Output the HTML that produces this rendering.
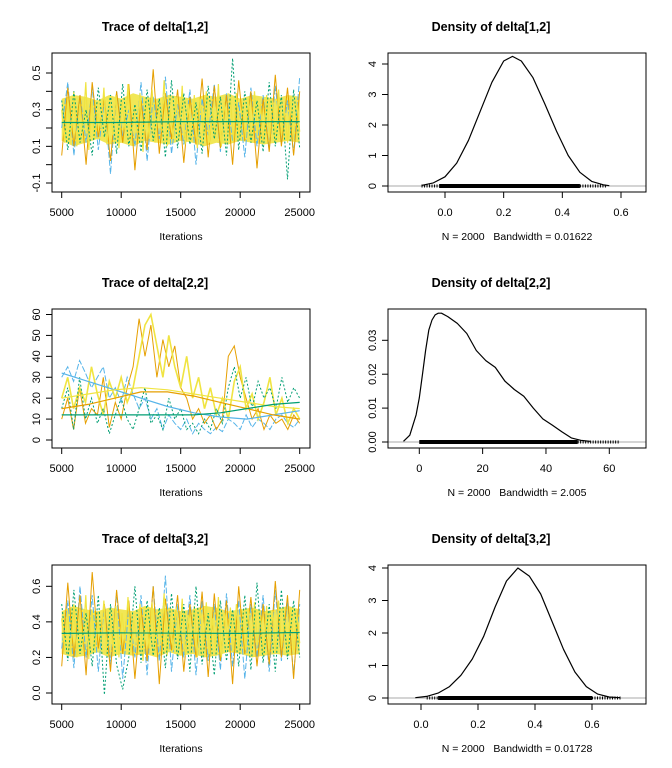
<!DOCTYPE html>
<html><head><meta charset="utf-8"><style>
body{margin:0;background:#fff;}
svg{display:block;font-family:"Liberation Sans",Arial,sans-serif;}
text{white-space:pre;}
</style></head><body>
<svg id="c" width="672" height="768" viewBox="0 0 672 768"></svg>
<script>
const iters=[5000,25000];
// Row 1 trace chains
const t1BandLo=[0.13,0.10,0.12,0.14,0.11,0.12,0.10,0.13,0.12,0.11,0.13,0.12,0.10,0.12,0.11,0.13,0.12,0.11,0.12,0.13,0.12];
const t1BandHi=[0.36,0.38,0.37,0.35,0.38,0.36,0.39,0.37,0.36,0.38,0.37,0.36,0.38,0.37,0.39,0.36,0.38,0.37,0.36,0.38,0.37];
const t1Yellow=[0.30,0.12,0.35,0.15,0.40,0.10,0.33,0.18,0.45,0.08,0.36,0.14,0.28,0.20,0.42,0.11,0.31,0.16,0.38,0.09,0.34,0.19,0.44,0.13,0.29,0.17,0.39,0.07,0.35,0.15,0.41,0.12,0.32,0.18,0.46,0.10,0.30,0.14,0.37,0.16,0.43,0.11,0.33,0.13,0.38,0.09,0.36,0.17,0.40,0.12,0.31,0.15,0.44,0.10,0.34,0.19,0.37,0.13,0.39,0.16,0.32,0.14,0.36,0.12,0.40,0.17,0.33,0.11,0.38,0.15,0.35,0.13,0.41,0.16,0.30,0.12,0.37,0.14,0.34,0.18];
const t1Orange=[0.05,0.42,0.10,0.38,0.00,0.45,0.15,0.36,0.02,0.40,0.12,0.44,-0.03,0.35,0.08,0.52,0.06,0.39,0.14,0.41,0.01,0.37,0.11,0.47,0.04,0.43,0.09,0.38,0.00,0.46,0.13,0.40,-0.02,0.36,0.07,0.49,0.10,0.42,0.05,0.40];
const t1Green=[0.35,0.08,0.40,0.12,0.30,0.05,0.42,0.15,0.38,0.06,0.44,0.10,0.33,0.07,0.41,0.13,0.36,0.04,0.46,0.09,0.39,0.11,0.34,0.06,0.43,0.14,0.37,0.05,0.58,0.08,0.40,0.12,0.35,0.07,0.45,0.10,0.38,-0.08,0.41,0.09];
const t1Blue=[0.20,0.45,0.05,0.38,0.12,0.42,0.08,0.35,-0.05,0.40,0.15,0.30,0.10,0.45,0.02,0.37,0.14,0.48,0.06,0.33,0.11,0.41,0.00,0.36,0.16,0.44,0.07,0.39,0.13,0.34,0.04,0.42,0.10,0.38,0.08,0.43,0.12,0.35,0.06,0.48];
const t1Smooth=[0.23,0.23,0.235,0.235,0.235];
// Row 2 trace chains
const t2Yellow=[20,30,15,25,18,35,22,12,28,20,30,18,25,40,55,60,45,30,50,35,25,40,20,30,15,25,12,20,10,28,35,15,22,10,18,30,12,20,8,15,10];
const t2Orange=[10,20,5,25,8,15,12,30,6,18,10,25,35,58,40,55,30,48,35,45,25,20,10,15,8,12,5,10,40,45,30,20,10,15,5,12,8,10,5,12,8];
const t2Green=[15,25,5,30,10,20,8,15,3,12,20,10,5,15,25,8,12,5,20,10,15,5,8,3,10,5,15,8,25,35,20,30,15,28,20,25,15,30,18,25,20];
const t2Blue=[30,35,28,38,32,25,30,35,20,25,18,30,22,15,20,10,15,5,12,8,5,10,3,8,5,3,6,4,10,8,5,12,6,10,8,5,10,12,8,6,10];
const s2Yellow=[20,22,24,25,24,22,20,18,16,15];
const s2Orange=[15,17,20,23,23,21,18,15,12,10];
const s2Green=[12,12,12,12,12,12,13,15,17,18];
const s2Blue=[32,28,24,20,16,13,11,10,12,14];
// Row 3 trace chains
const t3BandLo=[0.22,0.20,0.21,0.23,0.20,0.22,0.21,0.22,0.20,0.23,0.21,0.22,0.20,0.21,0.23,0.22,0.20,0.21,0.22,0.21,0.22];
const t3BandHi=[0.46,0.49,0.47,0.46,0.48,0.47,0.46,0.49,0.47,0.48,0.46,0.47,0.49,0.48,0.46,0.47,0.48,0.46,0.47,0.49,0.47];
const t3Yellow=[0.42,0.24,0.46,0.22,0.50,0.20,0.44,0.27,0.55,0.19,0.47,0.25,0.40,0.30,0.52,0.22,0.43,0.26,0.49,0.20,0.45,0.29,0.54,0.23,0.41,0.27,0.50,0.18,0.46,0.25,0.51,0.22,0.43,0.28,0.56,0.21,0.42,0.24,0.48,0.26,0.53,0.21,0.44,0.24,0.49,0.20,0.47,0.27,0.51,0.22,0.42,0.25,0.54,0.20,0.45,0.29,0.48,0.23,0.50,0.26,0.43,0.24,0.47,0.22,0.51,0.27,0.44,0.21,0.49,0.25,0.46,0.23,0.52,0.26,0.41,0.22,0.48,0.24,0.45,0.28];
const t3Orange=[0.15,0.62,0.20,0.55,0.10,0.68,0.25,0.50,0.12,0.58,0.22,0.52,0.08,0.48,0.18,0.60,0.05,0.53,0.24,0.55,0.12,0.50,0.20,0.57,0.09,0.56,0.18,0.52,0.05,0.60,0.22,0.54,0.15,0.50,0.16,0.63,0.20,0.55,0.08,0.58];
const t3Green=[0.50,0.18,0.58,0.22,0.45,0.15,0.55,-0.01,0.50,0.16,0.02,0.20,0.60,0.17,0.52,0.21,0.48,0.14,0.56,0.19,0.50,0.12,0.60,0.16,0.45,0.10,0.52,0.18,0.47,0.15,0.55,0.13,0.62,0.17,0.50,0.12,0.58,0.19,0.52,0.20];
const t3Blue=[0.25,0.52,0.14,0.60,0.20,0.55,0.12,0.50,0.16,0.57,0.08,0.48,0.20,0.55,0.10,0.60,0.18,0.66,0.12,0.50,0.20,0.55,0.10,0.52,0.18,0.50,0.13,0.56,0.15,0.52,0.08,0.50,0.20,0.55,0.12,0.58,0.18,0.52,0.10,0.50];
const t3Smooth=[0.335,0.338,0.336,0.335,0.34];
// densities
const d1x=[-0.08,-0.04,0,0.04,0.08,0.12,0.16,0.2,0.23,0.26,0.3,0.34,0.38,0.42,0.46,0.5,0.54,0.56];
const d1y=[0.02,0.1,0.3,0.75,1.5,2.45,3.4,4.1,4.25,4.1,3.55,2.7,1.8,1.0,0.45,0.15,0.04,0.01];
const d2x=[-5,-3,-1,0,1,2,3,4,5,6,7,9,12,15,18,21,24,27,30,33,36,39,42,45,48,51,54];
const d2y=[0.0002,0.002,0.008,0.013,0.02,0.027,0.033,0.036,0.0375,0.038,0.038,0.037,0.035,0.032,0.027,0.024,0.022,0.018,0.0155,0.0135,0.01,0.0068,0.005,0.003,0.0012,0.0005,0.0002];
const d3x=[-0.02,0.02,0.06,0.1,0.14,0.18,0.22,0.26,0.3,0.34,0.38,0.42,0.46,0.5,0.54,0.58,0.62,0.66,0.7];
const d3y=[0.01,0.05,0.15,0.35,0.7,1.2,1.9,2.8,3.6,4.0,3.75,3.2,2.35,1.5,0.8,0.35,0.12,0.03,0.01];
// rug: [sparse-min, dense-min, dense-max, sparse-max]
const rug1=[-0.08,-0.02,0.46,0.55], rug2=[0,0,50,63], rug3=[0.02,0.06,0.60,0.70];

const NS='http://www.w3.org/2000/svg', svg=document.getElementById('c');
function el(t,a,p){const e=document.createElementNS(NS,t);for(const k in a)e.setAttribute(k,a[k]);(p||svg).appendChild(e);return e;}
function lin(d0,d1,r0,r1){return v=>r0+(v-d0)*(r1-r0)/(d1-d0);}
function txt(s,x,y,o,name){const e=el('text',Object.assign({x:x,y:y,'font-size':11,'text-anchor':'middle',fill:'#000'},o||{}));e.textContent=s;

return e;}
function panel(px,py,title,name){
  const g=el('g',{});
  
  
  g.appendChild(txt(title,px+155,py+31,{'font-size':12.5,'font-weight':'bold'},'panel-title'));
  return g;
}
function box(g,x0,y0){const r=el('rect',{x:x0+52,y:y0+53,width:258,height:139,fill:'none',stroke:'#000','stroke-width':1},g);

}
function xaxis(g,ticks,labels,sx,y0){
  ticks.forEach((t,i)=>{const x=sx(t);el('line',{x1:x,x2:x,y1:y0+192,y2:y0+198,stroke:'#000'},g);
    g.appendChild(txt(labels[i],x,y0+216,{},'x-tick-label'));});
  el('line',{x1:sx(ticks[0]),x2:sx(ticks[ticks.length-1]),y1:y0+192,y2:y0+192,stroke:'#000'},g);
}
function yaxis(g,ticks,labels,sy,x0){
  ticks.forEach((t,i)=>{const y=sy(t);el('line',{x1:x0+52,x2:x0+46,y1:y,y2:y,stroke:'#000'},g);
    if(labels[i]!==''){g.appendChild(txt(labels[i],0,0,{transform:`translate(${x0+40},${y}) rotate(-90)`},'y-tick-label'));}});
  el('line',{x1:x0+52,x2:x0+52,y1:sy(ticks[0]),y2:sy(ticks[ticks.length-1]),stroke:'#000'},g);
}
function path(g,xs,ys,sx,sy,o,name){let d='';xs.forEach((x,i)=>{d+=(i?'L':'M')+sx(x).toFixed(1)+','+sy(ys[i]).toFixed(1);});
  const p=el('path',Object.assign({d:d,fill:'none'},o),g);
  
  return p;}
function seqX(n){const a=[];for(let i=0;i<n;i++)a.push(iters[0]+(iters[1]-iters[0])*i/(n-1));return a;}
const COL={y:'#F0E442',o:'#E69F00',g:'#009E73',b:'#56B4E9'};
function trace(row,title,ch,smooth,band,yt,yl,ydom){
  const y0=row*256, g=panel(0,y0,title,'trace-panel-'+(row+1));
  const sx=lin(5000,25000,61.7,299.7), sy=lin(ydom[0],ydom[1],ydom[2],ydom[3]);
  const clip=el('clipPath',{id:'cl'+row},g);el('rect',{x:52,y:y0+53,width:258,height:139},clip);
  const cg=el('g',{'clip-path':`url(#cl${row})`},g);
  if(band){const xs=seqX(band[0].length);let d='';
    xs.forEach((x,i)=>{d+=(i?'L':'M')+sx(x).toFixed(1)+','+sy(band[1][i]).toFixed(1);});
    for(let i=xs.length-1;i>=0;i--)d+='L'+sx(xs[i]).toFixed(1)+','+sy(band[0][i]).toFixed(1);
    const p=el('path',{d:d+'Z',fill:COL.y,opacity:0.9},cg);
    
    }
  path(cg,seqX(ch.b.length),ch.b,sx,sy,{stroke:COL.b,'stroke-width':1,'stroke-dasharray':'6,2'},'chain-3-trace');
  path(cg,seqX(ch.o.length),ch.o,sx,sy,{stroke:COL.o,'stroke-width':1},'chain-2-trace');
  path(cg,seqX(ch.y.length),ch.y,sx,sy,{stroke:COL.y,'stroke-width':band?1.2:1.6},'chain-1-trace');
  path(cg,seqX(ch.g.length),ch.g,sx,sy,{stroke:COL.g,'stroke-width':1,'stroke-dasharray':'2,2'},'chain-4-trace');
  smooth.forEach((s,k)=>path(cg,seqX(s.v.length),s.v,sx,sy,{stroke:s.c,'stroke-width':1.2},'smooth-line-'+(k+1)));
  box(g,0,y0);
  xaxis(g,[5000,10000,15000,20000,25000],['5000','10000','15000','20000','25000'],sx,y0);
  yaxis(g,yt,yl,sy,0);
  g.appendChild(txt('Iterations',181,y0+240,{'font-size':10.5},'x-axis-title'));
}
function dens(row,title,dx,dy,rug,xt,xl,xdom,yt,yl,ydom,note){
  const y0=row*256, g=panel(336,y0,title,'density-panel-'+(row+1));
  const sx=lin(xdom[0],xdom[1],xdom[2],xdom[3]), sy=lin(ydom[0],ydom[1],ydom[2],ydom[3]);
  el('line',{x1:388,x2:646,y1:sy(0),y2:sy(0),stroke:'#aaa'},g);
  const r=el('rect',{x:sx(rug[1]),y:sy(0)-2,width:sx(rug[2])-sx(rug[1]),height:4,fill:'#000'},g);
  
  
  el('line',{x1:sx(rug[0]),x2:sx(rug[1]),y1:sy(0),y2:sy(0),stroke:'#000','stroke-width':3,'stroke-dasharray':'1,1.5'},g);
  el('line',{x1:sx(rug[2]),x2:sx(rug[3]),y1:sy(0),y2:sy(0),stroke:'#000','stroke-width':3,'stroke-dasharray':'1,1.5'},g);
  path(g,dx,dy,sx,sy,{stroke:'#000','stroke-width':1.2,'stroke-linejoin':'round'},'density-curve');
  el('rect',{x:388,y:y0+53,width:258,height:139,fill:'none',stroke:'#000'},g);
  xt.forEach((t,i)=>{const x=sx(t);el('line',{x1:x,x2:x,y1:y0+192,y2:y0+198,stroke:'#000'},g);g.appendChild(txt(xl[i],x,y0+216,{},'x-tick-label'));});
  el('line',{x1:sx(xt[0]),x2:sx(xt[xt.length-1]),y1:y0+192,y2:y0+192,stroke:'#000'},g);
  yaxis(g,yt,yl,sy,336);
  g.appendChild(txt(note,517,y0+240,{'font-size':10.5},'x-axis-title'));
}
trace(0,'Trace of delta[1,2]',{y:t1Yellow,o:t1Orange,g:t1Green,b:t1Blue},[{v:t1Smooth,c:'#009E73'}],[t1BandLo,t1BandHi],
  [-0.1,0,0.1,0.2,0.3,0.4,0.5],['-0.1','','0.1','','0.3','','0.5'],[0.5,-0.1,73,183]);
trace(1,'Trace of delta[2,2]',{y:t2Yellow,o:t2Orange,g:t2Green,b:t2Blue},
  [{v:s2Blue,c:COL.b},{v:s2Yellow,c:COL.y},{v:s2Orange,c:COL.o},{v:s2Green,c:COL.g}],null,
  [0,10,20,30,40,50,60],['0','10','20','30','40','50','60'],[0,60,256+184,256+58.5]);
trace(2,'Trace of delta[3,2]',{y:t3Yellow,o:t3Orange,g:t3Green,b:t3Blue},[{v:t3Smooth,c:'#009E73'}],[t3BandLo,t3BandHi],
  [0,0.2,0.4,0.6],['0.0','0.2','0.4','0.6'],[0,0.6,693,586.3]);
dens(0,'Density of delta[1,2]',d1x,d1y,rug1,[0,0.2,0.4,0.6],['0.0','0.2','0.4','0.6'],[0,0.6,445,621],
  [0,1,2,3,4],['0','1','2','3','4'],[0,4,186,64],'N = 2000   Bandwidth = 0.01622');
dens(1,'Density of delta[2,2]',d2x,d2y,rug2,[0,20,40,60],['0','20','40','60'],[0,60,419.3,609.3],
  [0,0.01,0.02,0.03],['0.00','0.01','0.02','0.03'],[0,0.03,442,340.3],'N = 2000   Bandwidth = 2.005');
dens(2,'Density of delta[3,2]',d3x,d3y,rug3,[0,0.2,0.4,0.6],['0.0','0.2','0.4','0.6'],[0,0.6,421,592],
  [0,1,2,3,4],['0','1','2','3','4'],[0,4,698,568],'N = 2000   Bandwidth = 0.01728');
</script>
</body></html>
